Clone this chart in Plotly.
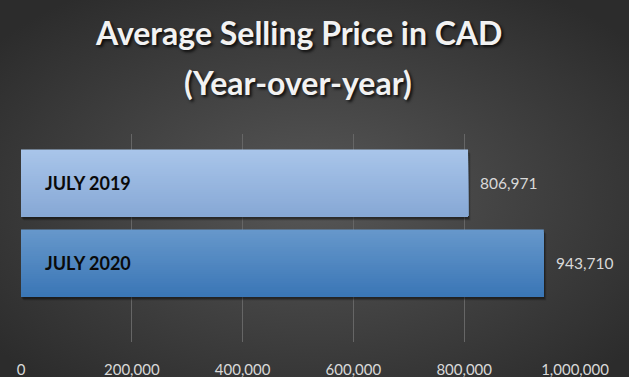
import base64
import plotly.graph_objects as go

# ---- data ----
categories = ["JULY 2019", "JULY 2020"]
values = [806971, 943710]
tick_vals = [0, 200000, 400000, 600000, 800000, 1000000]
tick_text = ["0", "200,000", "400,000", "600,000", "800,000", "1,000,000"]
title_lines = ["Average Selling Price in CAD", "(Year-over-year)"]

W, H = 629, 377
L, R, T, B = 21, 54, 134, 35
pw, ph = W - L - R, H - T - B

# gradient colours per bar (top, bottom)
grad = [((0xA9, 0xC6, 0xEA), (0x86, 0xA7, 0xD5)),
        ((0x67, 0x98, 0xCB), (0x3A, 0x76, 0xB6))]

def mix(a, b, t):
    return "rgb(%d,%d,%d)" % tuple(round(a[i] + (b[i] - a[i]) * t) for i in range(3))

bar_w = 0.84
N = 30
fig = go.Figure()

# soft drop shadow
for k, a in enumerate([0.12, 0.18, 0.25]):
    fig.add_trace(go.Bar(
        y=categories, x=values, orientation="h", width=bar_w,
        offset=-bar_w / 2 + 0.05 - k * 0.012, base=4500 - k * 1500,
        marker=dict(color="rgba(0,0,0,%.2f)" % a, line=dict(width=0)),
        hoverinfo="skip", showlegend=False))

step = bar_w / N
for i in range(N):
    t = (i + 0.5) / N
    fig.add_trace(go.Bar(
        y=categories, x=values, orientation="h",
        width=bar_w - i * step, offset=-bar_w / 2 + i * step,
        marker=dict(color=[mix(g[0], g[1], t) for g in grad], line=dict(width=0)),
        hoverinfo="skip", showlegend=False))

annotations = []
for c, v in zip(categories, values):
    annotations.append(dict(x=0, y=c, xref="x", yref="y", text="<b>%s</b>" % c,
                            showarrow=False, xanchor="left", xshift=22,
                            font=dict(family="Lato", size=18, color="#0a0a0a")))
    annotations.append(dict(x=v, y=c, xref="x", yref="y", text=f"{v:,}",
                            showarrow=False, xanchor="left", xshift=10,
                            font=dict(family="Lato", size=15.5, color="#d9d9d9")))

title_y = [33, 82]
for txt, yy in zip(title_lines, title_y):
    annotations.append(dict(x=0.5, xref="paper", y=(H - B - yy) / ph, yref="paper",
                            text="<b>%s</b>" % txt, showarrow=False,
                            xanchor="center", yanchor="middle",
                            font=dict(family="Lato", size=32, color="#f2f2f2",
                                      shadow="2px 2px 3px rgba(0,0,0,0.8)")))

svg = f'''<svg xmlns="http://www.w3.org/2000/svg" width="{W}" height="{H}">
<defs><radialGradient id="g" cx="50%" cy="52%" r="65%">
<stop offset="0%" stop-color="#575757"/><stop offset="100%" stop-color="#2c2c2c"/>
</radialGradient></defs><rect width="{W}" height="{H}" fill="url(#g)"/></svg>'''
src = "data:image/svg+xml;base64," + base64.b64encode(svg.encode()).decode()

fig.update_layout(
    width=W, height=H, margin=dict(l=L, r=R, t=T, b=B, autoexpand=False),
    paper_bgcolor="#3a3a3a", plot_bgcolor="rgba(0,0,0,0)",
    barmode="overlay", showlegend=False,
    annotations=annotations,
    images=[dict(source=src, xref="paper", yref="paper", x=-L / pw, y=1 + T / ph,
                 sizex=W / pw, sizey=H / ph, sizing="stretch", layer="below",
                 xanchor="left", yanchor="top")],
    xaxis=dict(range=[0, 1000000], tickvals=tick_vals, ticktext=tick_text,
               automargin=False,
               showgrid=True, gridcolor="#666666", gridwidth=1, zeroline=False,
               showline=False, ticks="", ticklabelstandoff=17,
               tickfont=dict(family="Lato", size=15, color="#d9d9d9")),
    yaxis=dict(type="category", categoryorder="array", categoryarray=categories,
               automargin=False,
               range=[1.9875, -0.6125], showticklabels=False, showgrid=False,
               zeroline=False, showline=False, ticks=""),
)
fig.write_html("out.html", config={"displayModeBar": False},
               post_script="document.body.style.margin='0';document.body.style.background='#2c2c2c';")
